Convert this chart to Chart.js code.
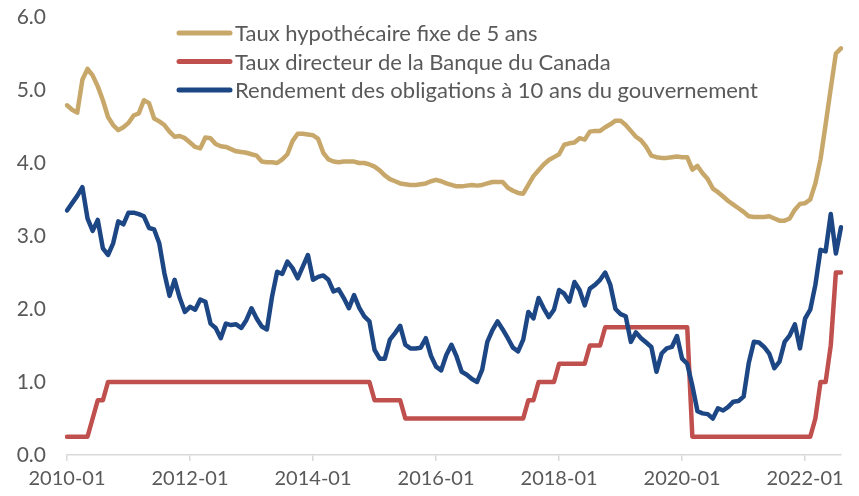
<!DOCTYPE html>
<html>
<head>
<meta charset="utf-8">
<script src="https://cdn.jsdelivr.net/npm/chart.js@4.4.1/dist/chart.umd.min.js"></script>
<style>
  html, body { margin: 0; padding: 0; background: #fff; }
  #wrap { width: 859px; height: 496px; }
</style>
</head>
<body>
<div id="wrap"><canvas id="taux" width="859" height="496"></canvas></div>
<script>
// mois de 2010-01 à 2022-08
const labels = [];
for (let y = 2010; y <= 2022; y++) {
  for (let m = 1; m <= 12; m++) {
    if (y === 2022 && m > 8) break;
    labels.push(y + "-" + String(m).padStart(2, "0"));
  }
}

const tauxHypo = [
  4.79, 4.73, 4.69, 5.14, 5.29, 5.20, 5.05, 4.86, 4.63, 4.52,
  4.45, 4.49, 4.55, 4.65, 4.68, 4.86, 4.82, 4.61, 4.57, 4.52,
  4.43, 4.36, 4.37, 4.34, 4.28, 4.22, 4.20, 4.35, 4.34, 4.26,
  4.23, 4.22, 4.19, 4.16, 4.15, 4.14, 4.12, 4.10, 4.02, 4.01,
  4.01, 4.00, 4.05, 4.12, 4.30, 4.40, 4.40, 4.39, 4.38, 4.33,
  4.14, 4.05, 4.02, 4.01, 4.02, 4.02, 4.02, 4.00, 4.00, 3.98,
  3.95, 3.90, 3.83, 3.78, 3.75, 3.72, 3.71, 3.70, 3.70, 3.71,
  3.72, 3.75, 3.77, 3.75, 3.72, 3.70, 3.68, 3.68, 3.69, 3.70,
  3.69, 3.70, 3.72, 3.74, 3.74, 3.74, 3.66, 3.62, 3.59, 3.58,
  3.70, 3.82, 3.90, 3.98, 4.04, 4.08, 4.12, 4.25, 4.27, 4.28,
  4.34, 4.32, 4.43, 4.44, 4.44, 4.49, 4.53, 4.58, 4.58, 4.52,
  4.44, 4.36, 4.31, 4.22, 4.10, 4.08, 4.07, 4.07, 4.08, 4.09,
  4.08, 4.08, 3.91, 3.96, 3.86, 3.78, 3.65, 3.60, 3.54, 3.48,
  3.43, 3.38, 3.33, 3.27, 3.26, 3.26, 3.26, 3.27, 3.24, 3.21,
  3.21, 3.24, 3.36, 3.44, 3.45, 3.50, 3.72, 4.05, 4.53, 5.02,
  5.50, 5.57
];

const tauxDirecteur = [
  0.25, 0.25, 0.25, 0.25, 0.25, 0.50, 0.75, 0.75, 1.00, 1.00,
  1.00, 1.00, 1.00, 1.00, 1.00, 1.00, 1.00, 1.00, 1.00, 1.00,
  1.00, 1.00, 1.00, 1.00, 1.00, 1.00, 1.00, 1.00, 1.00, 1.00,
  1.00, 1.00, 1.00, 1.00, 1.00, 1.00, 1.00, 1.00, 1.00, 1.00,
  1.00, 1.00, 1.00, 1.00, 1.00, 1.00, 1.00, 1.00, 1.00, 1.00,
  1.00, 1.00, 1.00, 1.00, 1.00, 1.00, 1.00, 1.00, 1.00, 1.00,
  0.75, 0.75, 0.75, 0.75, 0.75, 0.75, 0.50, 0.50, 0.50, 0.50,
  0.50, 0.50, 0.50, 0.50, 0.50, 0.50, 0.50, 0.50, 0.50, 0.50,
  0.50, 0.50, 0.50, 0.50, 0.50, 0.50, 0.50, 0.50, 0.50, 0.50,
  0.75, 0.75, 1.00, 1.00, 1.00, 1.00, 1.25, 1.25, 1.25, 1.25,
  1.25, 1.25, 1.50, 1.50, 1.50, 1.75, 1.75, 1.75, 1.75, 1.75,
  1.75, 1.75, 1.75, 1.75, 1.75, 1.75, 1.75, 1.75, 1.75, 1.75,
  1.75, 1.75, 0.25, 0.25, 0.25, 0.25, 0.25, 0.25, 0.25, 0.25,
  0.25, 0.25, 0.25, 0.25, 0.25, 0.25, 0.25, 0.25, 0.25, 0.25,
  0.25, 0.25, 0.25, 0.25, 0.25, 0.25, 0.50, 1.00, 1.00, 1.50,
  2.50, 2.50
];

const rendement10ans = [
  3.35, 3.45, 3.55, 3.67, 3.24, 3.07, 3.22, 2.83, 2.74, 2.90,
  3.20, 3.16, 3.32, 3.32, 3.30, 3.27, 3.11, 3.09, 2.90, 2.49,
  2.18, 2.40, 2.15, 1.96, 2.03, 1.99, 2.13, 2.10, 1.80, 1.74,
  1.60, 1.80, 1.78, 1.79, 1.74, 1.85, 2.01, 1.87, 1.76, 1.72,
  2.17, 2.51, 2.48, 2.65, 2.56, 2.42, 2.58, 2.74, 2.40, 2.44,
  2.46, 2.40, 2.24, 2.27, 2.15, 2.01, 2.19, 2.02, 1.90, 1.83,
  1.44, 1.32, 1.32, 1.58, 1.67, 1.77, 1.51, 1.46, 1.46, 1.47,
  1.60, 1.36, 1.21, 1.16, 1.37, 1.51, 1.35, 1.14, 1.10, 1.04,
  1.00, 1.17, 1.55, 1.71, 1.83, 1.72, 1.60, 1.47, 1.42, 1.58,
  1.96, 1.87, 2.15, 2.01, 1.89, 1.99, 2.26, 2.21, 2.10, 2.37,
  2.26, 2.05, 2.28, 2.33, 2.40, 2.50, 2.33, 2.00, 1.93, 1.90,
  1.55, 1.68, 1.60, 1.54, 1.48, 1.14, 1.39, 1.46, 1.48, 1.63,
  1.32, 1.25, 0.95, 0.60, 0.57, 0.56, 0.50, 0.64, 0.61, 0.66,
  0.73, 0.74, 0.80, 1.26, 1.55, 1.54, 1.48, 1.39, 1.19, 1.28,
  1.55, 1.64, 1.79, 1.46, 1.87, 1.99, 2.33, 2.81, 2.79, 3.30,
  2.76, 3.12
];

const yTicks = [0, 1, 2, 3, 4, 5, 6];

const gris = "#595959";
const police = "Lato";

// légende dessinée dans la zone du graphique
const legendeInterne = {
  id: "legendeInterne",
  afterDatasetsDraw(chart) {
    const ctx = chart.ctx;
    ctx.save();
    chart.data.datasets.forEach((ds, i) => {
      const y = 33 + i * 28.5;
      ctx.beginPath();
      ctx.strokeStyle = ds.borderColor;
      ctx.lineWidth = 5;
      ctx.lineCap = "round";
      ctx.moveTo(179, y);
      ctx.lineTo(230, y);
      ctx.stroke();
      ctx.fillStyle = gris;
      ctx.font = "22px " + police;
      ctx.textBaseline = "middle";
      ctx.fillText(ds.label, 235, y + 1);
    });
    ctx.restore();
  }
};

const config = {
  type: "line",
  data: {
    labels: labels,
    datasets: [
      {
        label: "Taux hypothécaire fixe de 5 ans",
        data: tauxHypo,
        borderColor: "#C8A86A",
        order: 2
      },
      {
        label: "Taux directeur de la Banque du Canada",
        data: tauxDirecteur,
        borderColor: "#C0504D",
        order: 1
      },
      {
        label: "Rendement des obligations à 10 ans du gouvernement",
        data: rendement10ans,
        borderColor: "#1D4684",
        order: 0
      }
    ]
  },
  options: {
    responsive: false,
    animation: false,
    layout: { padding: { top: 17, right: 18, left: 0, bottom: 0 } },
    elements: {
      point: { radius: 0 },
      line: { borderWidth: 4.5, tension: 0, borderCapStyle: "round", borderJoinStyle: "round", fill: false }
    },
    plugins: {
      legend: { display: false },
      tooltip: { enabled: false }
    },
    scales: {
      x: {
        type: "category",
        grid: { drawOnChartArea: false, color: "#d9d9d9", lineWidth: 1.5, tickLength: 6 },
        border: { color: "#d9d9d9", width: 1.5 },
        ticks: {
          autoSkip: false,
          maxRotation: 0,
          padding: 6,
          color: gris,
          font: { family: police, size: 20 },
          callback: function (val, i) {
            return i % 24 === 0 ? this.getLabelForValue(val) : null;
          }
        },
        afterFit(scale) { scale.height = 41; }
      },
      y: {
        min: yTicks[0],
        max: yTicks[yTicks.length - 1],
        grid: { display: false, drawTicks: false },
        border: { display: false },
        afterBuildTicks(scale) { scale.ticks = yTicks.map(v => ({ value: v })); },
        ticks: {
          padding: 21,
          color: gris,
          font: { family: police, size: 21 },
          callback: v => v.toFixed(1)
        },
        afterFit(scale) {
          scale.width = 67;
          scale.paddingTop = 0;
          scale.paddingBottom = 0;
        }
      }
    }
  },
  plugins: [legendeInterne]
};

const myChart = new Chart(document.getElementById("taux"), config);
</script>
</body>
</html>
